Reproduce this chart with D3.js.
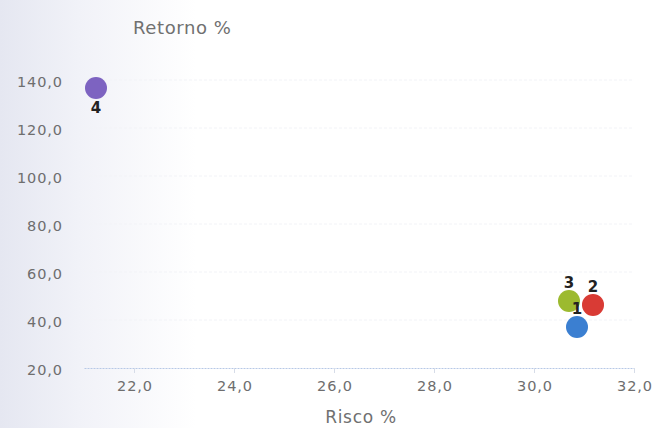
<!DOCTYPE html>
<html>
<head>
<meta charset="utf-8">
<script src="https://cdn.jsdelivr.net/npm/d3@7"></script>
<style>
  html, body { margin: 0; padding: 0; background: #fff; }
  svg { display: block; }
</style>
</head>
<body>
<svg id="chart" width="654" height="428"></svg>
<script>
// Risk / return points per portfolio
const names   = ["1", "2", "3", "4"];
const risk    = [30.86, 31.18, 30.70, 21.24];
const returns = [37.1, 46.3, 47.9, 136.7];
const colors  = ["#3b7fd1", "#d93b35", "#9cba2f", "#7d63c1"];
const labelBelow = [false, false, false, true];

const xTicks = [22, 24, 26, 28, 30, 32];
const yTicks = [20, 40, 60, 80, 100, 120, 140];

const fmt = v => d3.format(".1f")(v).replace(".", ",");

const svg = d3.select("#chart");
const W = 654, H = 428;

// soft tint along the left edge of the page
const defs = svg.append("defs");
const grad = defs.append("linearGradient").attr("id", "bg").attr("x1", 0).attr("x2", 1);
grad.append("stop").attr("offset", 0).attr("stop-color", "#e5e7f1");
grad.append("stop").attr("offset", 0.12).attr("stop-color", "#f1f2f8");
grad.append("stop").attr("offset", 0.30).attr("stop-color", "#ffffff");
svg.append("rect").attr("width", W).attr("height", H).attr("fill", "url(#bg)");

const x = d3.scaleLinear().domain([21, 32]).range([84, 634]);
const y = d3.scaleLinear().domain([20, 140]).range([368, 80]);

// faint horizontal grid
svg.append("g").selectAll("line").data(yTicks.filter(t => t > 20)).join("line")
  .attr("x1", x(21)).attr("x2", x(32))
  .attr("y1", d => y(d)).attr("y2", d => y(d))
  .attr("stroke", "#f2f3f7").attr("stroke-width", 1)
  .attr("stroke-dasharray", "3,2");

// x axis
const xAxis = d3.axisBottom(x).tickValues(xTicks).tickFormat(fmt).tickSize(5).tickSizeOuter(0);
const gx = svg.append("g").attr("transform", `translate(0,${y(20)})`).call(xAxis);
gx.select(".domain").attr("stroke", "#b7c8e6").attr("stroke-dasharray", "2,1");
gx.selectAll(".tick line").attr("stroke", "#d6dce8");
gx.selectAll(".tick text")
  .attr("fill", "#6e6e6e").attr("font-family", "DejaVu Sans")
  .attr("font-size", 14.5).attr("letter-spacing", 0.9)
  .attr("dx", 0.5).attr("y", 13).attr("dy", "0.71em");

// y axis (labels only)
const yAxis = d3.axisLeft(y).tickValues(yTicks).tickFormat(fmt).tickSize(0);
const gy = svg.append("g").attr("transform", "translate(63,0)").call(yAxis);
gy.select(".domain").remove();
gy.selectAll(".tick text")
  .attr("fill", "#6e6e6e").attr("font-family", "DejaVu Sans")
  .attr("font-size", 14.5).attr("letter-spacing", 0.9)
  .attr("x", 0).attr("dy", "0.45em");

// axis titles
svg.append("text").attr("x", 133).attr("y", 34)
  .attr("fill", "#707070").attr("font-family", "DejaVu Sans").attr("font-size", 18)
  .attr("letter-spacing", 0.6)
  .text("Retorno %");
svg.append("text").attr("x", 361).attr("y", 423).attr("text-anchor", "middle")
  .attr("fill", "#707070").attr("font-family", "DejaVu Sans").attr("font-size", 17)
  .attr("letter-spacing", 0.7)
  .text("Risco %");

// points
const pts = names.map((n, i) => ({ n, x: risk[i], y: returns[i], c: colors[i], below: labelBelow[i] }));
svg.append("g").selectAll("circle").data(pts).join("circle")
  .attr("cx", d => x(d.x)).attr("cy", d => y(d.y)).attr("r", 11)
  .attr("fill", d => d.c);

// point labels
svg.append("g").selectAll("text").data(pts).join("text")
  .attr("x", d => x(d.x)).attr("y", d => y(d.y) + (d.below ? 25 : -13))
  .attr("text-anchor", "middle")
  .attr("font-family", "DejaVu Sans").attr("font-weight", "bold").attr("font-size", 15)
  .attr("fill", "#222")
  .text(d => d.n);
</script>
</body>
</html>
